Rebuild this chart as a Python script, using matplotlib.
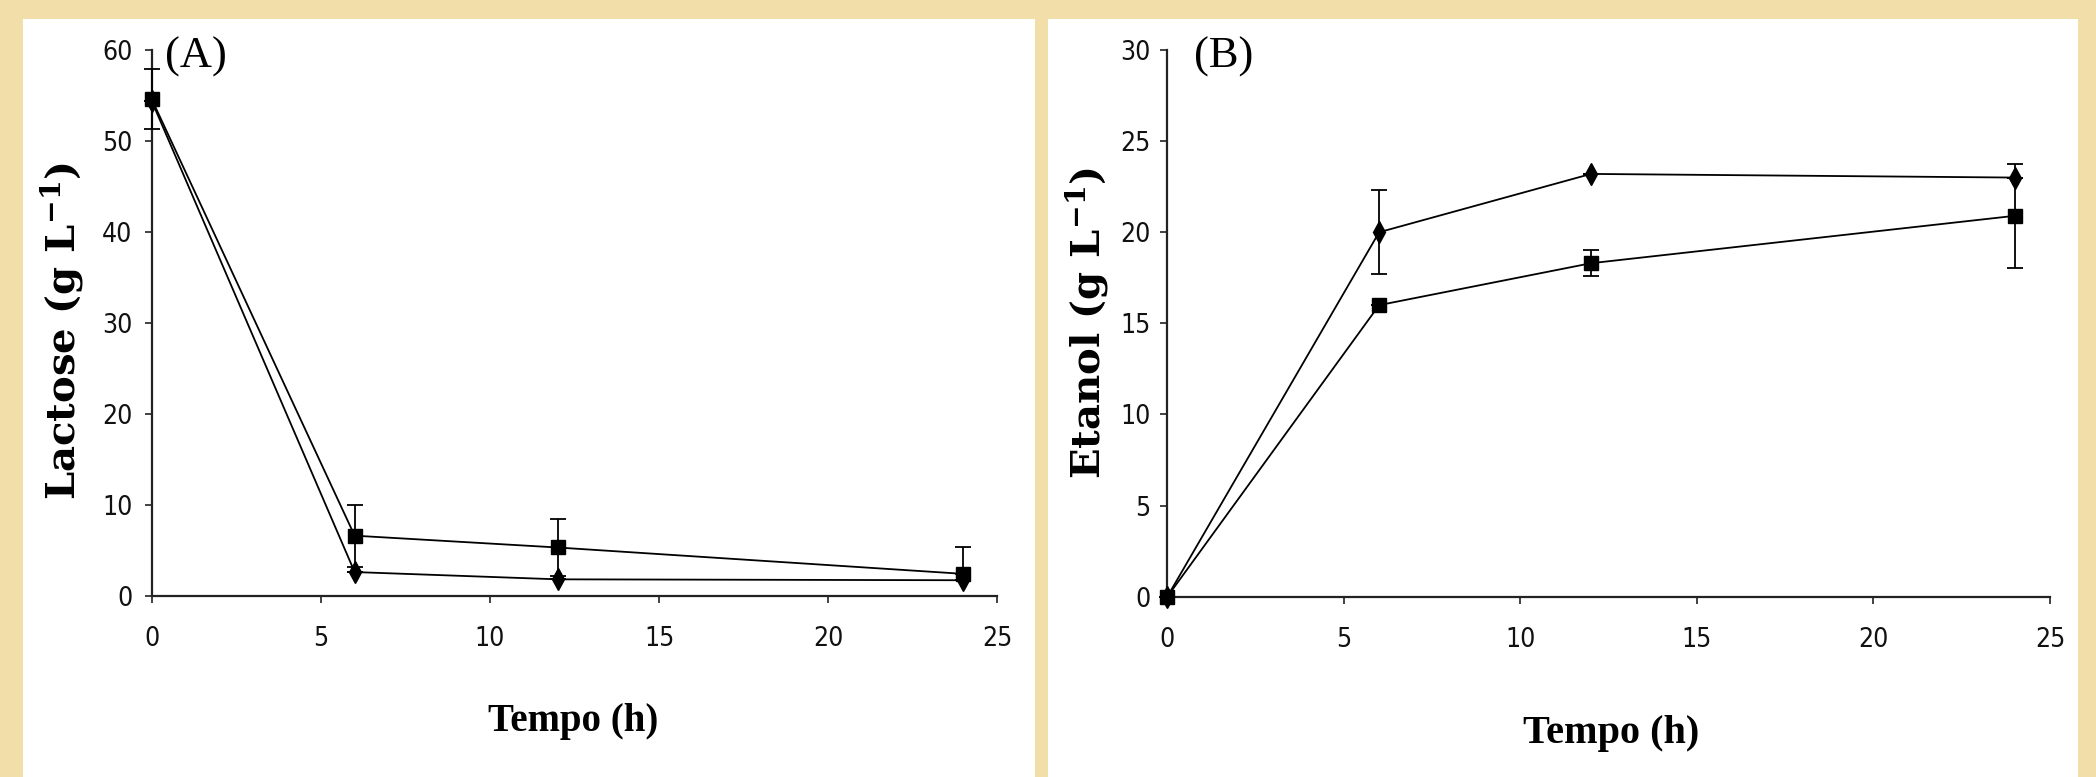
import matplotlib
matplotlib.use("Agg")
import matplotlib.pyplot as plt
from matplotlib.patches import Rectangle

# ---------------- data ----------------
tempo = [0, 6, 12, 24]

lactose_diamond = [54.4, 2.6, 1.8, 1.7]
lactose_diamond_err = [0.0, 0.0, 0.0, 0.0]
lactose_square = [54.6, 6.6, 5.3, 2.4]
lactose_square_err_low = [3.3, 3.4, 3.1, 0.0]
lactose_square_err_high = [3.3, 3.4, 3.1, 3.0]

etanol_diamond = [0.0, 20.0, 23.2, 23.0]
etanol_diamond_err = [0.0, 2.3, 0.0, 0.0]
etanol_square = [0.0, 16.0, 18.3, 20.9]
etanol_square_err = [0.0, 0.0, 0.7, 2.85]

xticks = [0, 5, 10, 15, 20, 25]
lactose_yticks = [0, 10, 20, 30, 40, 50, 60]
etanol_yticks = [0, 5, 10, 15, 20, 25, 30]

# ---------------- figure ----------------
W, H = 2096, 777
fig = plt.figure(figsize=(W / 100, H / 100), dpi=100)
fig.patch.set_facecolor("#F1DEA8")
plt.rcParams['mathtext.fontset'] = 'dejavuserif'

# white panels (behind everything)
for x0, w in [(23, 1012), (1048, 1030)]:
    r = Rectangle((x0 / W, 0), w / W, (777 - 19) / H,
                  transform=fig.transFigure, facecolor="white",
                  edgecolor="none", zorder=-10)
    fig.add_artist(r)


def style_axes(ax, ylim, yticks, ypad):
    ax.set_zorder(2)
    ax.set_facecolor("none")
    ax.set_xlim(0, 25)
    ax.set_ylim(*ylim)
    ax.set_xticks(xticks)
    ax.set_yticks(yticks)
    for s in ["top", "right"]:
        ax.spines[s].set_visible(False)
    for s in ["left", "bottom"]:
        ax.spines[s].set_linewidth(1.6)
        ax.spines[s].set_color("#222222")
    ax.tick_params(axis="both", direction="out", length=5, width=1.2,
                   colors="#222222", labelsize=19)
    ax.tick_params(axis="x", pad=17)
    ax.tick_params(axis="y", pad=ypad)
    for lab in ax.get_xticklabels() + ax.get_yticklabels():
        lab.set_family("DejaVu Sans")
        lab.set_stretch("condensed")
        lab.set_color("#111111")


def draw_series(ax, y_d, e_d, y_s, e_s):
    ax.errorbar(tempo, y_s, yerr=e_s, color="black", lw=1.3, marker="s",
                markersize=9.5, elinewidth=1.3, capsize=6, capthick=1.3,
                clip_on=False, zorder=3)
    ax.errorbar(tempo, y_d, yerr=e_d, color="black", lw=1.3, marker="d",
                markersize=11, elinewidth=1.3, capsize=6, capthick=1.3,
                clip_on=False, zorder=4)
    for c in ax.lines + ax.collections:
        c.set_clip_on(False)


# Panel A
axA = fig.add_axes([151.7 / W, (H - 595.7) / H, 845.6 / W, 545.7 / H])
style_axes(axA, (0, 60), lactose_yticks, 9)
draw_series(axA, lactose_diamond, lactose_diamond_err, lactose_square,
            [lactose_square_err_low, lactose_square_err_high])

# Panel B
axB = fig.add_axes([1167.3 / W, (H - 596.7) / H, 882.7 / W, 546.7 / H])
style_axes(axB, (0, 30), etanol_yticks, 7)
draw_series(axB, etanol_diamond, etanol_diamond_err,
            etanol_square, etanol_square_err)

# labels
fig.text(62 / W, 1 - 331 / H, r"Lactose (g L$^{\mathbf{-1}}$)", rotation=90,
         ha="center", va="center", fontsize=29, fontweight="bold",
         family="DejaVu Serif")
fig.text(1087 / W, 1 - 323 / H, r"Etanol (g L$^{\mathbf{-1}}$)", rotation=90,
         ha="center", va="center", fontsize=29, fontweight="bold",
         family="DejaVu Serif")
fig.text(573 / W, 1 - 722 / H, "Tempo (h)", ha="center", va="center",
         fontsize=28, fontweight="bold", family="Liberation Serif")
fig.text(1611 / W, 1 - 733 / H, "Tempo (h)", ha="center", va="center",
         fontsize=29, fontweight="bold", family="Liberation Serif")
fig.text(196 / W, 1 - 57 / H, "(A)", ha="center", va="center",
         fontsize=32, family="Liberation Serif")
fig.text(1224 / W, 1 - 57 / H, "(B)", ha="center", va="center",
         fontsize=32, family="Liberation Serif")

fig.savefig("out.png", dpi=100, facecolor=fig.get_facecolor())
